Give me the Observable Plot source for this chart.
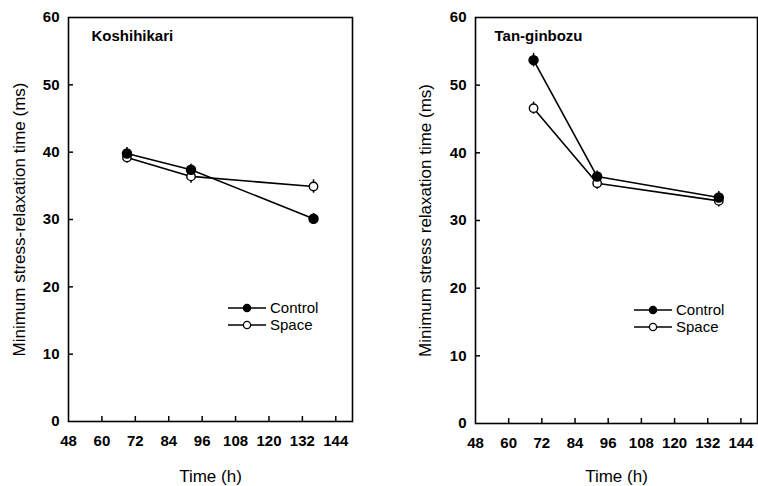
<!DOCTYPE html>
<html><head><meta charset="utf-8">
<script src="https://cdn.jsdelivr.net/npm/d3@7"></script>
<script src="https://cdn.jsdelivr.net/npm/@observablehq/plot@0.6"></script>
<style>
body{margin:0;background:#fff}
#c{display:flex;width:758px;height:486px;overflow:hidden}
#c svg{flex:none}
</style>
</head><body><div id="c"></div><script>
// ---- data ----
const hours = [69, 92, 136];
const xTicks = [48, 60, 72, 84, 96, 108, 120, 132, 144];
const yTicks = [0, 10, 20, 30, 40, 50, 60];
const seriesNames = ["Control", "Space"];

const koshiControl = [39.8, 37.4, 30.1];
const koshiControlErr = [0.9, 0.8, 0.8];
const koshiSpace = [39.2, 36.4, 34.9];
const koshiSpaceErr = [0.8, 1.0, 1.0];

const tanControl = [53.7, 36.5, 33.4];
const tanControlErr = [1.0, 0.8, 0.9];
const tanSpace = [46.6, 35.5, 32.9];
const tanSpaceErr = [0.9, 0.9, 0.9];

function rows(values, errs, series) {
  return hours.map((h, i) => ({h, v: values[i], e: errs[i], series}));
}

function panel({title, ylabel, control, space, m, legend, titleDx, yLabelOffset, xLabelOffset}) {
  const W = 379, H = 486;
  const data = [...control, ...space];
  const pw = W - m.left - m.right, ph = H - m.top - m.bottom;
  const legendMark = () => {
    const g = d3.create("svg:g");
    const items = [
      {name: seriesNames[0], y: legend.y, fill: "black"},
      {name: seriesNames[1], y: legend.y + 17, fill: "white"}
    ];
    for (const it of items) {
      g.append("line").attr("x1", legend.x).attr("x2", legend.x + 38)
        .attr("y1", it.y).attr("y2", it.y).attr("stroke", "black").attr("stroke-width", 1.5);
      g.append("circle").attr("cx", legend.x + 19).attr("cy", it.y).attr("r", 3.6)
        .attr("fill", it.fill).attr("stroke", "black").attr("stroke-width", 1.3);
      g.append("text").attr("x", legend.x + 42).attr("y", it.y).attr("dy", "0.35em")
        .attr("text-anchor", "start")
        .attr("font-size", 15).attr("fill", "black").text(it.name);
    }
    return g.node();
  };
  return Plot.plot({
    width: W, height: H,
    marginLeft: m.left, marginRight: m.right, marginTop: m.top, marginBottom: m.bottom,
    style: {fontFamily: "Liberation Sans, Arial, sans-serif", fontSize: "15px", color: "black", background: "white"},
    x: {domain: [48, 150]},
    y: {domain: [0, 60]},
    marks: [
      Plot.frame({stroke: "black", strokeWidth: 1.6}),
      Plot.axisX({ticks: xTicks, tickSize: 0, tickPadding: 14, tickFormat: d => String(d),
        label: null, fontSize: 15, fontWeight: "bold"}),
      Plot.axisX({ticks: [], tickSize: 0, label: "Time (h)", labelAnchor: "center", labelArrow: "none",
        labelOffset: xLabelOffset, fontSize: 17}),
      Plot.axisY({ticks: yTicks, tickSize: 0, tickPadding: 9, label: null, fontSize: 15, fontWeight: "bold"}),
      Plot.axisY({ticks: [], tickSize: 0, label: ylabel, labelAnchor: "center", labelArrow: "none",
        labelOffset: yLabelOffset, fontSize: 17}),
      Plot.tickX(xTicks.slice(1), {x: d => d, stroke: "black", strokeWidth: 1.5, insetTop: ph - 5}),
      Plot.tickY(yTicks.slice(1, -1), {y: d => d, stroke: "black", strokeWidth: 1.5, insetRight: pw - 5}),
      Plot.line(control, {x: "h", y: "v", stroke: "black", strokeWidth: 1.6}),
      Plot.line(space, {x: "h", y: "v", stroke: "black", strokeWidth: 1.6}),
      Plot.ruleX(data, {x: "h", y1: d => d.v - d.e, y2: d => d.v + d.e, stroke: "black", strokeWidth: 1.5}),
      Plot.dot(space, {x: "h", y: "v", r: 4.2, fill: "white", stroke: "black", strokeWidth: 1.4}),
      Plot.dot(control, {x: "h", y: "v", r: 4.5, fill: "black", stroke: "black"}),
      Plot.text([title], {frameAnchor: "top-left", dx: titleDx, dy: 13, fontWeight: "bold", fontSize: 15}),
      legendMark
    ]
  });
}

const c = document.getElementById("c");
c.append(panel({
  title: "Koshihikari",
  ylabel: "Minimum stress-relaxation time (ms)",
  control: rows(koshiControl, koshiControlErr, "Control"),
  space: rows(koshiSpace, koshiSpaceErr, "Space"),
  m: {left: 68, right: 27, top: 17, bottom: 65},
  legend: {x: 228, y: 308},
  titleDx: 23, yLabelOffset: 56, xLabelOffset: 60
}));
c.append(panel({
  title: "Tan-ginbozu",
  ylabel: "Minimum stress relaxation time (ms)",
  control: rows(tanControl, tanControlErr, "Control"),
  space: rows(tanSpace, tanSpaceErr, "Space"),
  m: {left: 96, right: 1, top: 17, bottom: 63},
  legend: {x: 255, y: 310},
  titleDx: 19, yLabelOffset: 57, xLabelOffset: 58
}));
</script></body></html>
